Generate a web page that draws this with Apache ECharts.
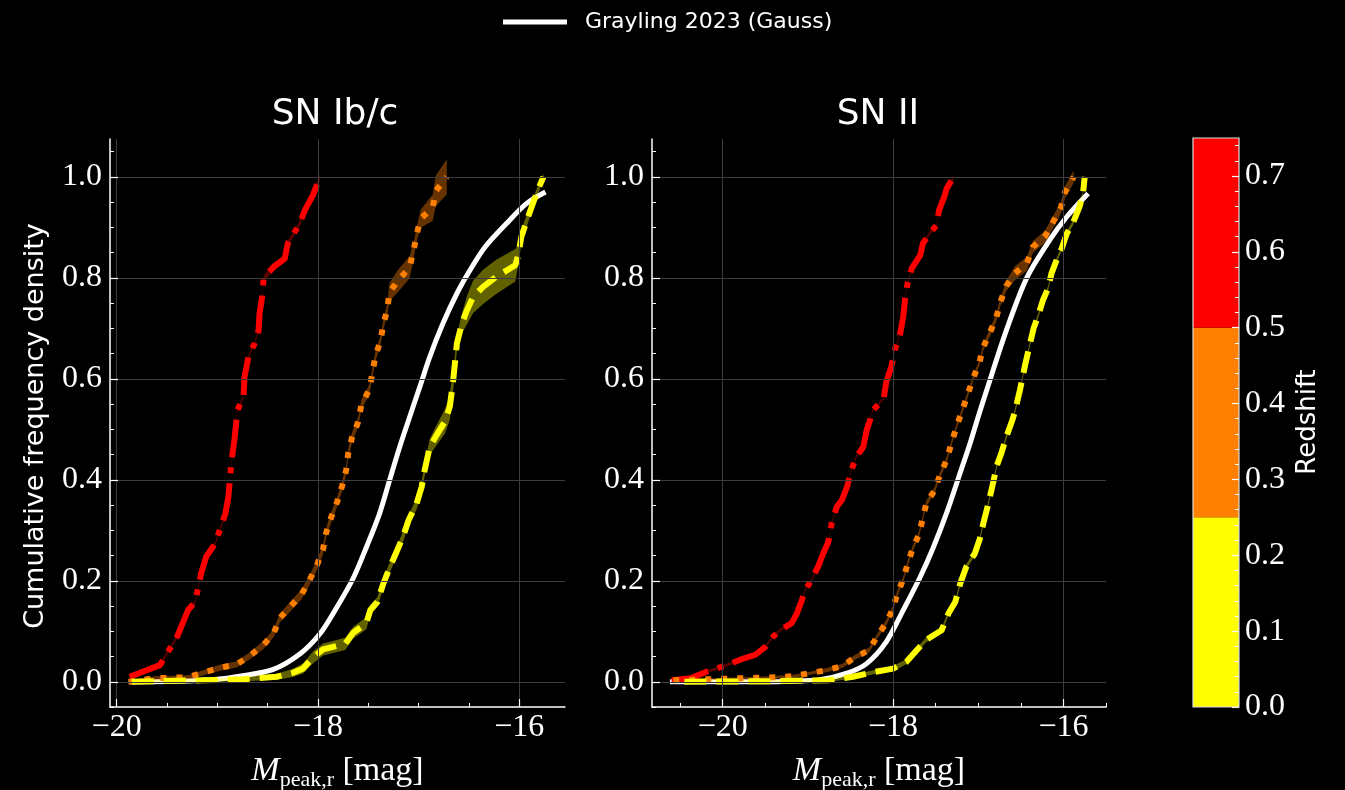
<!DOCTYPE html>
<html>
<head>
<meta charset="utf-8">
<script src="https://cdn.jsdelivr.net/npm/echarts@6/dist/echarts.min.js"></script>
<style>
html,body{margin:0;padding:0;background:#000;}
#c{width:1345px;height:790px;}
</style>
</head>
<body>
<div id="c"></div>
<script>
// ---------------- DATA ----------------
const panelTitles = ['SN Ib/c', 'SN II'];
const legendName = 'Grayling 2023 (Gauss)';

// SN Ib/c panel
const ibcRedM = [-19.87,-19.57,-19.40,-19.29,-19.22,-19.16,-19.11,-19.02,-18.97,-18.92,-18.89,-18.875,-18.86,-18.83,-18.81,-18.80,-18.74,-18.73,-18.69,-18.63,-18.59,-18.58,-18.555,-18.54,-18.44,-18.33,-18.30,-18.26,-18.18,-18.13,-18.05,-17.98];
const ibcRedF = [0.01,0.033,0.089,0.142,0.158,0.215,0.248,0.274,0.304,0.333,0.366,0.40,0.436,0.479,0.518,0.538,0.564,0.604,0.644,0.67,0.696,0.73,0.762,0.799,0.822,0.838,0.868,0.881,0.908,0.934,0.964,1.0];
const ibcRedE = [0.004,0.004,0.004,0.004,0.004,0.004,0.004,0.004,0.004,0.004,0.004,0.004,0.004,0.004,0.004,0.004,0.004,0.004,0.004,0.004,0.004,0.004,0.005,0.006,0.008,0.008,0.006,0.006,0.006,0.006,0.006,0.006];

const ibcOrM = [-19.88,-19.62,-19.45,-19.29,-19.14,-18.97,-18.81,-18.68,-18.54,-18.44,-18.38,-18.26,-18.16,-18.08,-18.01,-17.95,-17.92,-17.87,-17.81,-17.76,-17.72,-17.70,-17.66,-17.60,-17.57,-17.49,-17.46,-17.43,-17.38,-17.35,-17.31,-17.29,-17.20,-17.09,-17.05,-17.02,-16.98,-16.86,-16.83,-16.72];
const ibcOrF = [0.0,0.007,0.008,0.009,0.018,0.028,0.034,0.051,0.073,0.096,0.126,0.152,0.174,0.203,0.231,0.262,0.294,0.325,0.356,0.388,0.419,0.452,0.485,0.515,0.548,0.579,0.611,0.644,0.675,0.708,0.739,0.772,0.795,0.821,0.854,0.886,0.917,0.939,0.972,1.0];
const ibcOrE = [0.003,0.004,0.004,0.004,0.005,0.006,0.006,0.007,0.008,0.008,0.009,0.010,0.010,0.010,0.010,0.010,0.010,0.010,0.010,0.010,0.010,0.010,0.010,0.010,0.010,0.010,0.010,0.010,0.010,0.010,0.012,0.018,0.022,0.022,0.016,0.014,0.018,0.026,0.030,0.035];

const ibcYeM = [-19.85,-19.14,-18.74,-18.41,-18.26,-18.15,-18.05,-17.95,-17.73,-17.65,-17.52,-17.48,-17.41,-17.35,-17.29,-17.22,-17.15,-17.10,-17.02,-16.97,-16.94,-16.89,-16.82,-16.74,-16.69,-16.66,-16.64,-16.62,-16.57,-16.52,-16.46,-16.36,-16.23,-16.04,-16.01,-15.98,-15.93,-15.86,-15.81,-15.76];
const ibcYeF = [0.0,0.003,0.005,0.01,0.017,0.026,0.048,0.064,0.075,0.097,0.116,0.142,0.158,0.195,0.225,0.257,0.29,0.32,0.353,0.386,0.419,0.465,0.489,0.515,0.545,0.591,0.63,0.67,0.71,0.736,0.762,0.782,0.802,0.825,0.845,0.881,0.911,0.95,0.977,1.0];
const ibcYeE = [0.002,0.003,0.004,0.006,0.008,0.010,0.012,0.012,0.012,0.012,0.012,0.010,0.010,0.010,0.010,0.010,0.010,0.010,0.012,0.012,0.012,0.016,0.020,0.024,0.026,0.020,0.016,0.016,0.020,0.028,0.032,0.034,0.034,0.032,0.020,0.014,0.012,0.010,0.008,0.006];

const ibcGaM = [-19.88,-19.40,-19.00,-18.78,-18.45,-18.18,-17.98,-17.82,-17.65,-17.52,-17.39,-17.29,-17.19,-17.09,-16.99,-16.89,-16.76,-16.62,-16.49,-16.34,-16.13,-15.93,-15.74];
const ibcGaF = [0.0,0.001,0.005,0.011,0.024,0.055,0.095,0.145,0.205,0.266,0.332,0.398,0.464,0.524,0.583,0.643,0.709,0.769,0.815,0.861,0.907,0.947,0.970];

// SN II panel
const iiRedM = [-20.60,-20.38,-20.19,-19.95,-19.76,-19.62,-19.50,-19.41,-19.33,-19.19,-19.13,-19.07,-19.03,-18.96,-18.88,-18.82,-18.76,-18.72,-18.66,-18.60,-18.54,-18.49,-18.43,-18.35,-18.31,-18.27,-18.25,-18.11,-18.08,-18.02,-17.98,-17.92,-17.88,-17.86,-17.83,-17.78,-17.68,-17.65,-17.57,-17.49,-17.46,-17.40,-17.37,-17.29];
const iiRedF = [0.003,0.007,0.02,0.033,0.046,0.053,0.069,0.089,0.102,0.116,0.135,0.162,0.182,0.201,0.228,0.254,0.277,0.314,0.347,0.36,0.386,0.419,0.446,0.465,0.498,0.518,0.535,0.561,0.594,0.624,0.657,0.687,0.723,0.756,0.789,0.819,0.845,0.868,0.888,0.904,0.934,0.96,0.977,1.0];
const iiRedE = [0.002,0.003,0.003,0.003,0.003,0.003,0.003,0.003,0.003,0.003,0.003,0.003,0.003,0.003,0.003,0.003,0.003,0.003,0.003,0.003,0.003,0.003,0.003,0.003,0.003,0.003,0.003,0.003,0.003,0.003,0.003,0.003,0.003,0.003,0.003,0.004,0.004,0.004,0.004,0.004,0.004,0.004,0.004,0.004];

const iiOrM = [-20.58,-20.37,-20.17,-19.98,-19.77,-19.58,-19.38,-19.17,-18.98,-18.78,-18.60,-18.45,-18.28,-18.19,-18.08,-18.00,-17.95,-17.88,-17.83,-17.77,-17.70,-17.65,-17.61,-17.51,-17.45,-17.37,-17.31,-17.25,-17.18,-17.12,-17.06,-16.99,-16.94,-16.86,-16.79,-16.74,-16.67,-16.57,-16.43,-16.36,-16.22,-16.12,-16.03,-15.98,-15.88];
const iiOrF = [0.003,0.004,0.005,0.006,0.007,0.008,0.009,0.011,0.017,0.023,0.031,0.048,0.063,0.089,0.117,0.145,0.175,0.203,0.233,0.264,0.29,0.324,0.353,0.38,0.409,0.44,0.475,0.508,0.541,0.571,0.601,0.63,0.663,0.693,0.72,0.752,0.784,0.809,0.828,0.861,0.881,0.911,0.939,0.97,1.0];
const iiOrE = [0.002,0.002,0.002,0.002,0.002,0.002,0.003,0.003,0.003,0.004,0.004,0.005,0.005,0.005,0.006,0.006,0.006,0.006,0.006,0.006,0.006,0.006,0.006,0.006,0.006,0.006,0.006,0.006,0.006,0.006,0.006,0.006,0.007,0.008,0.008,0.008,0.010,0.014,0.014,0.012,0.012,0.012,0.012,0.012,0.012];

const iiYeM = [-20.45,-19.50,-19.17,-18.76,-18.47,-18.23,-18.00,-17.84,-17.72,-17.61,-17.43,-17.35,-17.27,-17.21,-17.14,-17.04,-16.98,-16.94,-16.89,-16.84,-16.78,-16.73,-16.67,-16.60,-16.57,-16.51,-16.45,-16.41,-16.35,-16.30,-16.24,-16.18,-16.14,-16.08,-16.02,-15.96,-15.89,-15.81,-15.77,-15.75];
const iiYeF = [0.0,0.001,0.002,0.003,0.01,0.019,0.026,0.04,0.063,0.083,0.102,0.135,0.158,0.195,0.228,0.254,0.284,0.314,0.347,0.383,0.429,0.452,0.485,0.518,0.535,0.578,0.627,0.657,0.70,0.723,0.756,0.779,0.809,0.835,0.858,0.888,0.908,0.941,0.967,1.0];
const iiYeE = [0.002,0.002,0.002,0.003,0.004,0.004,0.005,0.005,0.005,0.005,0.005,0.005,0.005,0.005,0.005,0.005,0.005,0.005,0.005,0.005,0.005,0.005,0.005,0.005,0.005,0.005,0.005,0.005,0.005,0.005,0.005,0.005,0.005,0.005,0.005,0.005,0.005,0.005,0.005,0.004];

const iiGaM = [-20.62,-19.50,-19.21,-18.86,-18.54,-18.31,-18.08,-17.88,-17.68,-17.53,-17.37,-17.21,-17.10,-17.00,-16.90,-16.67,-16.43,-16.16,-15.96,-15.71];
const iiGaF = [0.0,0.0,0.001,0.004,0.017,0.036,0.079,0.142,0.208,0.265,0.335,0.415,0.47,0.525,0.578,0.696,0.800,0.875,0.921,0.967];

// axis ticks
const xMajorTicks = [-20, -18, -16];
const xMinorIbc = [-20,-19.5,-19,-18.5,-18,-17.5,-17,-16.5,-16];
const xMinorII = [-20.5,-20,-19.5,-19,-18.5,-18,-17.5,-17,-16.5,-16,-15.5];
const yMajorTicks = [0, 0.2, 0.4, 0.6, 0.8, 1.0];
const yMinorTicks = [-0.05,0,0.05,0.1,0.15,0.2,0.25,0.3,0.35,0.4,0.45,0.5,0.55,0.6,0.65,0.7,0.75,0.8,0.85,0.9,0.95,1.0,1.05];

// colorbar
const cbEdges = [0, 0.25, 0.5, 0.75];
const cbColors = ['#ffff00', '#ff7f00', '#ff0000'];
const cbMajorTicks = [0, 0.1, 0.2, 0.3, 0.4, 0.5, 0.6, 0.7];
const cbMinorTicks = [0.02,0.04,0.06,0.08,0.12,0.14,0.16,0.18,0.22,0.24,0.26,0.28,0.32,0.34,0.36,0.38,0.42,0.44,0.46,0.48,0.52,0.54,0.56,0.58,0.62,0.64,0.66,0.68,0.72,0.74];

// ---------------- CHART ----------------
const chart = echarts.init(document.getElementById('c'), null, {renderer: 'canvas'});

const SERIF = 'Liberation Serif';
const SANS = 'DejaVu Sans';
const tickFont = 32;

function zip(a, b) { return a.map((v, i) => [v, b[i]]); }
function fmtX(v) { return (v < 0 ? '\u2212' : '') + Math.abs(v); }

function bandSeries(xi, yi, xs, ys, es, fill) {
  return {
    type: 'custom', xAxisIndex: xi, yAxisIndex: yi, silent: true, z: 3,
    data: [[xs[0], ys[0]]],
    renderItem: function (params, api) {
      const pts = [];
      for (let i = 0; i < xs.length; i++) pts.push(api.coord([xs[i], ys[i] + es[i]]));
      for (let i = xs.length - 1; i >= 0; i--) pts.push(api.coord([xs[i], ys[i] - es[i]]));
      return {type: 'polygon', shape: {points: pts}, style: {fill: fill}};
    }
  };
}
function lineSeries(xi, yi, xs, ys, color, dash, name, z) {
  const s = {
    type: 'line', name: name, xAxisIndex: xi, yAxisIndex: yi, data: zip(xs, ys),
    showSymbol: false, symbol: 'none', z: z || 4,
    itemStyle: {color: color},
    lineStyle: {color: color, width: name ? 5 : 6, type: dash, cap: 'butt', join: 'round'}
  };
  if (name) { s.smooth = 0.3; }
  return s;
}

function mainX(gi, min, max) {
  return {
    type: 'value', gridIndex: gi, min: min, max: max, position: 'bottom', z: 6,
    axisLine: {show: true, onZero: false, lineStyle: {color: '#fff', width: 1.5}},
    axisTick: {show: true, inside: true, length: 8, customValues: xMajorTicks, lineStyle: {color: '#fff', width: 1.2}},
    axisLabel: {show: true, customValues: xMajorTicks, formatter: fmtX, color: '#fff', fontFamily: SERIF, fontSize: tickFont, margin: 5},
    splitLine: {show: true, lineStyle: {color: '#3c3c3c', width: 1}},
    minorTick: {show: false},
    name: '{m|M}{s|peak,r}{b| [mag]}', nameLocation: 'middle', nameGap: 44,
    nameTextStyle: {
      color: '#fff',
      rich: {
        m: {fontFamily: SERIF, fontStyle: 'italic', fontSize: 34, color: '#fff', lineHeight: 40},
        s: {fontFamily: SERIF, fontSize: 22, color: '#fff', verticalAlign: 'bottom', lineHeight: 26},
        b: {fontFamily: SERIF, fontSize: 34, color: '#fff', lineHeight: 40}
      }
    }
  };
}
function minorX(gi, min, max, ticks) {
  return {
    type: 'value', gridIndex: gi, min: min, max: max, position: 'bottom', z: 6,
    axisLine: {show: false, onZero: false},
    axisTick: {show: true, inside: true, length: 4, customValues: ticks, lineStyle: {color: '#fff', width: 1}},
    axisLabel: {show: false}, splitLine: {show: false}
  };
}
function mainY(gi) {
  return {
    type: 'value', gridIndex: gi, min: -0.05, max: 1.075, position: 'left', z: 6,
    axisLine: {show: true, onZero: false, lineStyle: {color: '#fff', width: 1.5}},
    axisTick: {show: true, inside: true, length: 8, customValues: yMajorTicks, lineStyle: {color: '#fff', width: 1.2}},
    axisLabel: {show: true, customValues: yMajorTicks, formatter: v => v.toFixed(1), color: '#fff', fontFamily: SERIF, fontSize: tickFont, margin: 8},
    splitLine: {show: true, lineStyle: {color: '#3c3c3c', width: 1}}
  };
}
function minorY(gi) {
  return {
    type: 'value', gridIndex: gi, min: -0.05, max: 1.075, position: 'left', z: 6,
    axisLine: {show: false, onZero: false},
    axisTick: {show: true, inside: true, length: 4, customValues: yMinorTicks, lineStyle: {color: '#fff', width: 1}},
    axisLabel: {show: false}, splitLine: {show: false}
  };
}

const series = [];
// panel 0: SN Ib/c
series.push(lineSeries(0, 0, ibcGaM, ibcGaF, '#ffffff', 'solid', legendName, 2));
series.push(bandSeries(0, 0, ibcRedM, ibcRedF, ibcRedE, 'rgba(255,0,0,0.35)'));
series.push(bandSeries(0, 0, ibcOrM, ibcOrF, ibcOrE, 'rgba(255,127,0,0.4)'));
series.push(bandSeries(0, 0, ibcYeM, ibcYeF, ibcYeE, 'rgba(255,255,0,0.38)'));
series.push(lineSeries(0, 0, ibcRedM, ibcRedF, '#ff0000', [38, 10, 6, 10]));
series.push(lineSeries(0, 0, ibcOrM, ibcOrF, '#ff7f00', [6, 10]));
series.push(lineSeries(0, 0, ibcYeM, ibcYeF, '#ffff00', [22, 10]));
// panel 1: SN II
series.push(lineSeries(2, 2, iiGaM, iiGaF, '#ffffff', 'solid', legendName, 2));
series.push(bandSeries(2, 2, iiRedM, iiRedF, iiRedE, 'rgba(255,0,0,0.35)'));
series.push(bandSeries(2, 2, iiOrM, iiOrF, iiOrE, 'rgba(255,127,0,0.4)'));
series.push(bandSeries(2, 2, iiYeM, iiYeF, iiYeE, 'rgba(255,255,0,0.38)'));
series.push(lineSeries(2, 2, iiRedM, iiRedF, '#ff0000', [38, 10, 6, 10]));
series.push(lineSeries(2, 2, iiOrM, iiOrF, '#ff7f00', [6, 10]));
series.push(lineSeries(2, 2, iiYeM, iiYeF, '#ffff00', [22, 10]));
// colorbar
series.push({
  type: 'custom', xAxisIndex: 4, yAxisIndex: 4, silent: true, z: 1,
  data: cbColors.map((c, i) => [i, cbEdges[i], cbEdges[i + 1]]),
  renderItem: function (params, api) {
    const i = api.value(0);
    const p0 = api.coord([1, api.value(1)]);
    const p1 = api.coord([2, api.value(2)]);
    return {type: 'rect', shape: {x: p0[0], y: p1[1], width: p1[0] - p0[0], height: p0[1] - p1[1]}, style: {fill: cbColors[i]}};
  }
});

const option = {
  backgroundColor: '#000',
  animation: false,
  title: [
    {text: panelTitles[0], left: 330, top: 92, textAlign: 'center', textStyle: {color: '#fff', fontFamily: SANS, fontSize: 36, fontWeight: 'normal'}},
    {text: panelTitles[1], left: 873, top: 92, textAlign: 'center', textStyle: {color: '#fff', fontFamily: SANS, fontSize: 36, fontWeight: 'normal'}}
  ],
  legend: {
    data: [legendName], left: 498, top: 6, icon: 'rect', itemWidth: 64, itemHeight: 5,
    textStyle: {color: '#fff', fontFamily: SANS, fontSize: 22, padding: [0, 0, 0, 13]},
    selectedMode: false
  },
  grid: [
    {left: 110, top: 139, width: 455, height: 568, outerBoundsMode: 'none', containLabel: false},
    {left: 652, top: 139, width: 454, height: 568, outerBoundsMode: 'none', containLabel: false},
    {left: 1193, top: 138, width: 46, height: 569, outerBoundsMode: 'none', containLabel: false}
  ],
  xAxis: [
    mainX(0, -20.066, -15.546),
    minorX(0, -20.066, -15.546, xMinorIbc),
    mainX(1, -20.83, -15.5),
    minorX(1, -20.83, -15.5, xMinorII),
    {type: 'value', gridIndex: 2, min: 1, max: 2, show: false, axisLine: {onZero: false}}
  ],
  yAxis: [
    mainY(0), minorY(0), mainY(1), minorY(1),
    {
      type: 'value', gridIndex: 2, min: 0, max: 0.75, position: 'right', z: 10,
      axisLine: {show: false, onZero: false},
      axisTick: {show: true, inside: true, length: 7, customValues: cbMajorTicks, lineStyle: {color: '#fff', width: 1.2}},
      axisLabel: {show: true, customValues: cbMajorTicks, formatter: v => v.toFixed(1), color: '#fff', fontFamily: SERIF, fontSize: tickFont, margin: 6},
      splitLine: {show: false}
    },
    {
      type: 'value', gridIndex: 2, min: 0, max: 0.75, position: 'right', z: 10,
      axisLine: {show: false, onZero: false},
      axisTick: {show: true, inside: true, length: 4, customValues: cbMinorTicks, lineStyle: {color: '#fff', width: 1}},
      axisLabel: {show: false}, splitLine: {show: false}
    }
  ],
  graphic: [
    {type: 'rect', z: 20, silent: true, shape: {x: 1193, y: 138, width: 46, height: 569},
      style: {fill: 'none', stroke: '#dddddd', lineWidth: 1.2}},
    {type: 'text', x: 36, y: 426, rotation: Math.PI / 2, z: 10,
      style: {text: 'Cumulative frequency density', fill: '#fff', font: '27px "DejaVu Sans"', textAlign: 'center', textVerticalAlign: 'middle'}},
    {type: 'text', x: 1308, y: 422, rotation: Math.PI / 2, z: 10,
      style: {text: 'Redshift', fill: '#fff', font: '26px "DejaVu Sans"', textAlign: 'center', textVerticalAlign: 'middle'}}
  ],
  series: series
};
chart.setOption(option);
</script>
</body>
</html>
